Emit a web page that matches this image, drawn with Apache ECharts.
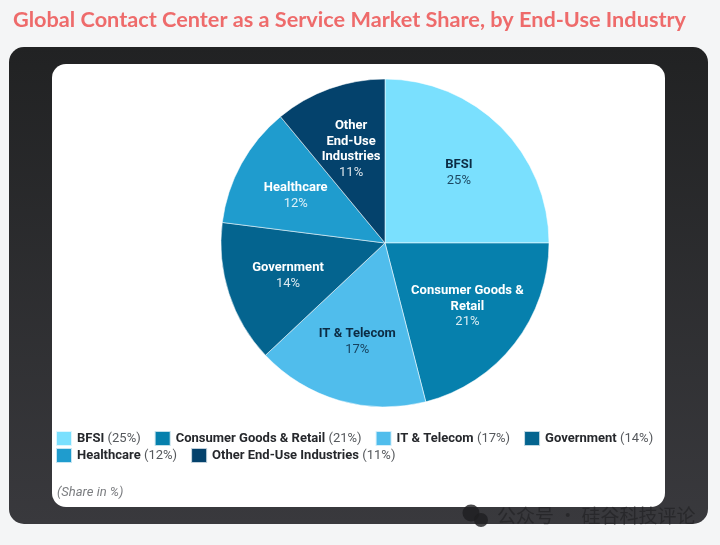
<!DOCTYPE html>
<html>
<head>
<meta charset="utf-8">
<title>Contact Center as a Service Market Share</title>
<style>
  html, body { margin: 0; padding: 0; background: #f4f5f6; }
  #chart { width: 720px; height: 545px; }
</style>
<script src="https://cdn.jsdelivr.net/npm/echarts@6/dist/echarts.min.js"></script>
</head>
<body>
<div id="chart"></div>
<script>
// data
var categories = ['BFSI', 'Consumer Goods & Retail', 'IT & Telecom', 'Government', 'Healthcare', 'Other End-Use Industries'];
var labelTexts = ['BFSI', 'Consumer Goods &\nRetail', 'IT & Telecom', 'Government', 'Healthcare', 'Other\nEnd-Use\nIndustries'];
var shares = [25, 21, 17, 14, 12, 11];
var colors = ['#7ae0fe', '#0680ad', '#50bdec', '#04648f', '#1f9cce', '#04426c'];
var labelColors = ['#0c2c44', '#ffffff', '#0c2c44', '#ffffff', '#ffffff', '#ffffff'];
var legendRow1 = ['BFSI', 'Consumer Goods & Retail', 'IT & Telecom', 'Government'];
var legendRow2 = ['Healthcare', 'Other End-Use Industries'];

var FONT = 'Roboto, sans-serif';
var PIE_R = 164;

var chart = echarts.init(document.getElementById('chart'), null, { renderer: 'canvas' });

var pieData = categories.map(function (name, i) {
  return {
    name: name,
    value: shares[i],
    itemStyle: { color: colors[i] },
    label: {
      rich: {
        n: { fontFamily: FONT, fontSize: 13, fontWeight: 700, lineHeight: 15.5, color: labelColors[i], align: 'center' },
        p: { fontFamily: FONT, fontSize: 13, fontWeight: 400, lineHeight: 15.5, color: labelColors[i], opacity: 0.85, align: 'center' }
      }
    }
  };
});

// the labels sit further out than the default mid radius
function pushLabelOut(params) {
  var before = 0;
  for (var i = 0; i < params.dataIndex; i++) before += shares[i];
  var a = (before + shares[params.dataIndex] / 2) / 100 * 2 * Math.PI;
  return {
    dx: Math.sin(a) * PIE_R * 0.11 + 1,
    dy: -Math.cos(a) * PIE_R * 0.10 + 1.5
  };
}

function legendLabel(name) {
  return '{n|' + name + '} {p|(' + shares[categories.indexOf(name)] + '%)}';
}

var legendText = {
  rich: {
    n: { fontFamily: FONT, fontSize: 13, fontWeight: 700, color: '#26282c' },
    p: { fontFamily: FONT, fontSize: 13, fontWeight: 400, color: '#55585c' }
  }
};

var option = {
  backgroundColor: '#f4f5f6',
  animation: false,
  title: {
    text: 'Global Contact Center as a Service Market Share, by End-Use Industry',
    left: 13,
    top: 9,
    padding: 0,
    textStyle: { fontFamily: 'Lato, sans-serif', fontSize: 21.7, fontWeight: 700, color: '#ee6b6b' }
  },
  legend: [
    {
      data: legendRow1, left: 55, top: 430, orient: 'horizontal', icon: 'rect',
      itemWidth: 16, itemHeight: 15, itemGap: 13, padding: 0, selectedMode: false,
      formatter: legendLabel, textStyle: legendText
    },
    {
      data: legendRow2, left: 55, top: 447, orient: 'horizontal', icon: 'rect',
      itemWidth: 16, itemHeight: 15, itemGap: 13, padding: 0, selectedMode: false,
      formatter: legendLabel, textStyle: legendText
    }
  ],
  graphic: [
    {
      type: 'rect', z: -2, silent: true,
      shape: { x: 9, y: 47, width: 699, height: 477, r: 15 },
      style: {
        fill: new echarts.graphic.LinearGradient(0, 0, 0, 1, [
          { offset: 0, color: '#212223' },
          { offset: 1, color: '#39393d' }
        ])
      }
    },
    {
      type: 'rect', z: -1, silent: true,
      shape: { x: 52, y: 64, width: 613, height: 443, r: 14 },
      style: { fill: '#ffffff' }
    },
    {
      type: 'text', left: 57, top: 486, silent: true,
      style: { text: '(Share in %)', fontFamily: FONT, fontSize: 13, fontStyle: 'italic', fill: '#7b7d80' }
    },
    // watermark
    {
      type: 'text', left: 497, top: 506, z: 100, silent: true,
      style: { text: '公众号 · 硅谷科技评论', fontFamily: '"Noto Sans CJK SC"', fontSize: 19, fill: 'rgba(28,28,30,0.55)' }
    },
    { type: 'circle', z: 100, silent: true, shape: { cx: 471, cy: 513, r: 8.5 }, style: { fill: 'rgba(30,30,32,0.8)' } },
    { type: 'circle', z: 100, silent: true, shape: { cx: 481, cy: 520, r: 7 }, style: { fill: 'rgba(30,30,32,0.8)' } }
  ],
  series: [
    {
      type: 'pie',
      center: [385, 243],
      radius: [0, PIE_R],
      startAngle: 90,
      clockwise: true,
      silent: true,
      data: pieData,
      itemStyle: { borderColor: 'rgba(255,255,255,0.75)', borderWidth: 0.7 },
      label: {
        show: true,
        position: 'inside',
        formatter: function (p) {
          var lines = labelTexts[p.dataIndex].split('\n').map(function (s) { return '{n|' + s + '}'; });
          lines.push('{p|' + shares[p.dataIndex] + '%}');
          return lines.join('\n');
        }
      },
      labelLine: { show: false },
      labelLayout: pushLabelOut
    }
  ]
};

chart.setOption(option);
</script>
</body>
</html>
